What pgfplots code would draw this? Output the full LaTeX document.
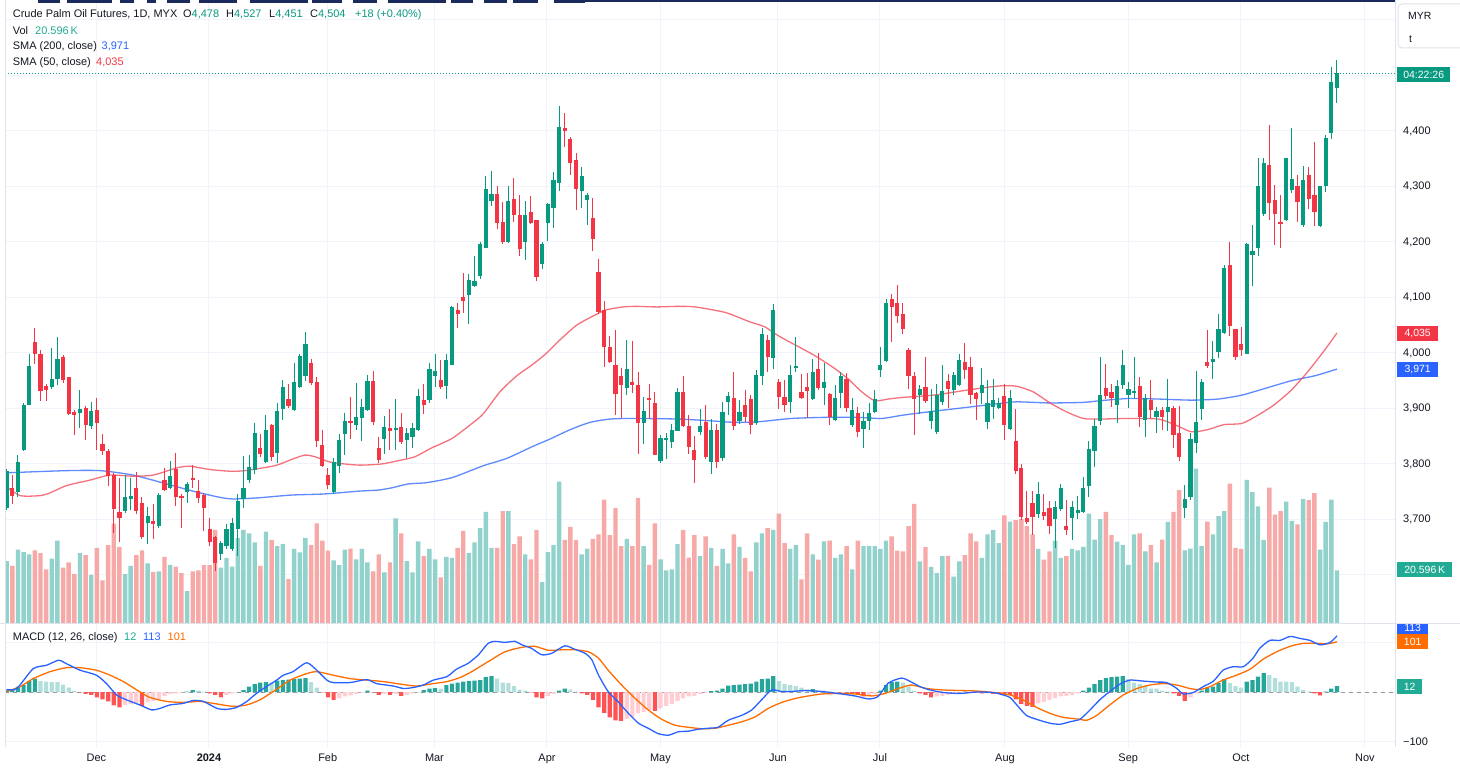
\documentclass[border=0pt]{standalone}
\usepackage{fontspec}
\setmainfont{Liberation Sans}
\usepackage{pgfplots}
\usepackage{pgfplotstable}
\pgfplotsset{compat=1.18}

\definecolor{txt}{HTML}{131722}
\definecolor{tvgreen}{HTML}{089981}
\definecolor{tvred}{HTML}{F23645}
\definecolor{volgreen}{HTML}{92D2CC}
\definecolor{volred}{HTML}{F7A9A7}
\definecolor{gridc}{HTML}{F0F3FA}
\definecolor{sepc}{HTML}{E0E3EB}
\definecolor{smablue}{HTML}{2962FF}
\definecolor{smared}{HTML}{F23645}
\definecolor{macdblue}{HTML}{2962FF}
\definecolor{macdorange}{HTML}{FF6D00}
\definecolor{hG}{HTML}{26A69A}
\definecolor{hg}{HTML}{B2DFDB}
\definecolor{hR}{HTML}{FF5252}
\definecolor{hr}{HTML}{FFCDD2}
\definecolor{labteal}{HTML}{22AB94}
\definecolor{navy}{HTML}{1A2A5C}

\newcommand\tfont{\fontsize{11}{13}\selectfont}
\newcommand\sfont{\fontsize{10.5}{12}\selectfont}

\pgfplotstableread{
i O H L C V
0 3720 3790 3718 3787 24.2
1 3756 3780 3728 3743 22.4
2 3749 3815 3741 3803 28.7
3 3826 3910 3824 3906 27.7
4 3907 3997 3906 3977 26.9
5 4020 4044 3980 3998 28.4
6 3998 4005 3914 3932 27.3
7 3941 3943 3914 3933 21.0
8 3938 4008 3936 3954 25.2
9 3953 4029 3943 3989 32.2
10 3992 3995 3946 3951 21.7
11 3956 3956 3888 3890 23.8
12 3893 3897 3852 3889 19.2
13 3892 3933 3865 3899 27.3
14 3901 3904 3843 3871 26.6
15 3868 3912 3863 3896 18.9
16 3897 3919 3826 3873 29.4
17 3836 3854 3816 3824 16.8
18 3824 3826 3761 3779 30.5
19 3780 3784 3676 3718 38.8
20 3713 3774 3660 3702 29.7
21 3715 3780 3713 3740 19.2
22 3737 3774 3718 3742 22.4
23 3756 3785 3711 3715 26.6
24 3730 3740 3666 3668 28.4
25 3694 3722 3657 3707 23.4
26 3698 3727 3666 3692 20.0
27 3688 3748 3686 3745 20.3
28 3771 3793 3751 3754 25.9
29 3757 3804 3756 3778 22.8
30 3791 3819 3725 3741 22.1
31 3742 3746 3686 3738 19.6
32 3749 3767 3731 3764 12.6
33 3774 3797 3757 3771 20.3
34 3752 3771 3731 3739 20.6
35 3745 3748 3679 3720 22.7
36 3683 3702 3653 3660 22.7
37 3668 3670 3608 3621 36.4
38 3637 3660 3628 3657 21.7
39 3653 3692 3647 3683 25.5
40 3647 3702 3644 3694 22.1
41 3683 3745 3634 3733 33.3
42 3737 3813 3722 3756 36.4
43 3771 3815 3767 3795 35.0
44 3790 3873 3782 3856 31.5
45 3829 3853 3813 3818 22.4
46 3803 3888 3802 3862 35.7
47 3870 3871 3806 3813 32.5
48 3819 3909 3803 3896 30.1
49 3899 3951 3880 3939 30.8
50 3917 3943 3902 3904 17.2
51 3898 3982 3896 3948 29.0
52 3939 3998 3937 3995 27.6
53 3959 4037 3950 4017 33.3
54 3982 3989 3943 3946 30.5
55 3948 3957 3831 3841 38.9
56 3834 3860 3795 3797 32.2
57 3780 3792 3756 3763 28.3
58 3750 3810 3746 3803 24.5
59 3797 3854 3784 3844 22.7
60 3854 3891 3816 3878 28.7
61 3878 3920 3845 3875 29.1
62 3870 3946 3862 3884 24.9
63 3883 3917 3842 3902 29.0
64 3898 3959 3896 3950 23.8
65 3950 3967 3870 3875 20.3
66 3828 3849 3803 3808 26.9
67 3845 3886 3819 3866 19.9
68 3865 3898 3826 3860 23.8
69 3862 3917 3826 3865 40.9
70 3867 3891 3836 3839 35.0
71 3844 3865 3811 3855 24.2
72 3849 3873 3829 3865 19.9
73 3862 3935 3860 3922 31.9
74 3915 3944 3891 3907 26.3
75 3915 3982 3911 3972 29.0
76 3959 3998 3940 3967 24.9
77 3951 3987 3935 3938 17.9
78 3941 3997 3917 3987 25.9
79 3979 4084 3978 4083 25.5
80 4077 4090 4045 4070 29.4
81 4101 4143 4073 4094 36.0
82 4104 4142 4052 4132 27.3
83 4121 4175 4119 4129 31.5
84 4138 4199 4134 4196 37.1
85 4190 4319 4189 4295 43.4
86 4274 4327 4265 4287 29.4
87 4287 4301 4223 4235 29.4
88 4236 4272 4197 4200 43.7
89 4200 4301 4199 4274 43.7
90 4278 4314 4236 4249 30.8
91 4248 4285 4175 4187 33.9
92 4200 4273 4168 4248 26.9
93 4254 4282 4233 4235 24.9
94 4239 4239 4130 4137 36.4
95 4161 4200 4151 4196 16.1
96 4235 4269 4203 4268 27.7
97 4261 4325 4225 4312 30.5
98 4306 4444 4293 4408 55.1
99 4405 4431 4371 4400 32.5
100 4386 4388 4321 4342 37.5
101 4347 4360 4259 4295 32.5
102 4291 4335 4262 4319 26.9
103 4275 4288 4231 4284 29.1
104 4244 4278 4184 4205 32.9
105 4146 4168 4071 4073 34.6
106 4078 4093 3976 4011 48.1
107 4011 4030 3982 3984 34.3
108 3979 4041 3888 3927 44.8
109 3958 3972 3883 3943 30.1
110 3937 4023 3925 3971 32.9
111 3948 4021 3928 3942 30.1
112 3942 3966 3819 3873 48.8
113 3873 3920 3837 3896 30.1
114 3918 3943 3881 3915 22.8
115 3909 3930 3816 3817 38.9
116 3806 3852 3802 3847 24.9
117 3844 3855 3810 3847 20.6
118 3840 3871 3829 3862 21.0
119 3860 3937 3860 3930 30.8
120 3930 3958 3867 3868 36.4
121 3868 3888 3819 3830 25.6
122 3826 3850 3767 3808 34.3
123 3857 3898 3852 3868 26.2
124 3875 3906 3810 3813 33.9
125 3804 3881 3782 3862 29.4
126 3862 3872 3793 3803 22.4
127 3810 3911 3806 3893 29.0
128 3912 3930 3888 3922 23.4
129 3918 3965 3862 3868 34.6
130 3878 3914 3873 3894 29.8
131 3906 3932 3876 3884 25.5
132 3917 3924 3855 3870 20.3
133 3873 3969 3871 3961 31.5
134 3959 4044 3943 4034 35.0
135 4023 4031 3967 3992 37.1
136 3991 4088 3971 4077 36.4
137 3948 3953 3899 3920 42.7
138 3920 3951 3894 3906 31.2
139 3912 3978 3892 3961 29.0
140 3974 4028 3967 3976 30.5
141 3930 3961 3917 3919 17.1
142 3938 3963 3884 3932 35.0
143 3917 3989 3915 3965 26.9
144 3972 4000 3933 3937 24.8
145 3937 3982 3907 3948 31.9
146 3927 3928 3870 3884 32.2
147 3880 3941 3878 3919 25.5
148 3927 3965 3902 3959 26.9
149 3953 3963 3894 3901 30.1
150 3870 3919 3868 3898 21.0
151 3891 3902 3849 3858 32.2
152 3863 3894 3830 3878 30.1
153 3877 3909 3862 3891 30.1
154 3894 3933 3893 3917 30.1
155 3969 4011 3958 3979 29.0
156 3985 4097 3984 4090 32.2
157 4097 4106 4021 4083 33.9
158 4090 4122 4054 4067 28.3
159 4070 4090 4034 4043 28.0
160 4005 4008 3935 3958 37.8
161 3959 3965 3852 3917 46.5
162 3924 3941 3891 3935 24.1
163 3939 3992 3911 3914 29.7
164 3878 3935 3863 3896 22.0
165 3858 3943 3855 3925 19.6
166 3912 3978 3907 3932 26.2
167 3950 3961 3902 3935 26.3
168 3933 3965 3924 3961 18.2
169 3943 3998 3941 3987 24.1
170 3984 4017 3954 3969 26.6
171 3974 3992 3909 3924 35.0
172 3927 3930 3880 3917 31.9
173 3928 3972 3909 3942 25.5
174 3876 3950 3863 3909 34.6
175 3902 3953 3881 3915 36.4
176 3901 3919 3899 3909 31.2
177 3922 3943 3843 3870 42.0
178 3863 3932 3862 3918 39.6
179 3842 3898 3782 3787 40.2
180 3793 3800 3699 3704 40.6
181 3702 3751 3692 3696 37.8
182 3730 3751 3672 3704 34.6
183 3709 3767 3704 3746 29.0
184 3713 3746 3700 3707 24.8
185 3720 3733 3674 3689 28.0
186 3700 3732 3650 3723 32.2
187 3718 3763 3715 3756 25.5
188 3689 3735 3673 3681 26.2
189 3702 3733 3663 3722 29.0
190 3711 3741 3702 3717 28.4
191 3713 3776 3712 3756 29.8
192 3761 3841 3741 3827 42.7
193 3823 3881 3795 3868 32.6
194 3878 3992 3870 3925 40.6
195 3937 3980 3918 3922 43.4
196 3930 3943 3904 3918 34.3
197 3907 3950 3875 3941 31.8
198 3943 4004 3935 3978 30.5
199 3924 3948 3902 3935 22.8
200 3928 3992 3917 3932 34.6
201 3941 3956 3867 3884 35.0
202 3880 3925 3850 3919 28.0
203 3915 3950 3881 3898 30.5
204 3884 3902 3856 3896 23.8
205 3898 3902 3862 3884 32.6
206 3894 3953 3860 3902 39.5
207 3901 3904 3829 3852 43.4
208 3856 3904 3806 3813 51.8
209 3720 3761 3704 3737 28.4
210 3741 3855 3735 3845 29.1
211 3837 3967 3821 3876 60.2
212 3899 3952 3880 3948 30.1
213 3984 4041 3974 3976 39.6
214 3984 4021 3953 3989 34.6
215 4002 4070 3992 4044 41.7
216 4036 4158 4034 4153 43.7
217 4158 4200 4031 4049 54.4
218 4043 4043 3987 3993 29.4
219 4017 4047 3995 4006 29.0
220 3998 4197 3998 4197 55.8
221 4177 4230 4122 4183 51.1
222 4189 4351 4175 4301 45.5
223 4251 4350 4247 4342 32.5
224 4338 4410 4241 4271 52.8
225 4276 4303 4195 4251 42.3
226 4236 4285 4189 4233 43.7
227 4239 4351 4239 4351 47.4
228 4293 4404 4288 4314 39.9
229 4301 4321 4236 4272 38.5
230 4231 4336 4228 4312 48.3
231 4321 4335 4260 4277 47.9
232 4284 4379 4230 4254 50.7
233 4229 4301 4228 4301 28.7
234 4301 4392 4290 4388 39.5
235 4396 4514 4386 4488 48.1
236 4478 4527 4451 4504 20.6
}\candles

\pgfplotstableread{
i h k
0 4 1
1 5 1
2 11 1
3 14 1
4 22 1
5 27 1
6 22 2
7 21 2
8 20 2
9 20 2
10 15 2
11 9 2
12 2 2
13 -1 3
14 -4 3
15 -6 3
16 -11 3
17 -15 3
18 -19 3
19 -27 3
20 -31 3
21 -26 4
22 -24 4
23 -23 4
24 -28 3
25 -21 4
26 -18 4
27 -14 4
28 -8 4
29 -4 4
30 -3 4
31 -1 4
32 1 1
33 4 1
34 3 2
35 1 2
36 -3 3
37 -6 3
38 -11 3
39 -6 4
40 -3 4
41 0 1
42 4 1
43 11 1
44 16 1
45 19 1
46 20 1
47 19 2
48 23 1
49 24 1
50 25 1
51 26 1
52 27 1
53 28 1
54 20 2
55 9 2
56 -1 3
57 -11 3
58 -16 3
59 -13 4
60 -9 4
61 -7 4
62 -4 4
63 -1 4
64 3 1
65 -1 3
66 -6 3
67 -4 4
68 -6 3
69 -4 4
70 -8 3
71 -6 4
72 -3 4
73 0 1
74 4 1
75 7 1
76 8 1
77 7 2
78 14 1
79 17 1
80 19 1
81 21 1
82 22 1
83 23 1
84 24 1
85 30 1
86 32 1
87 27 2
88 19 2
89 18 2
90 12 2
91 5 2
92 3 2
93 -1 3
94 -11 3
95 -13 3
96 -8 4
97 -4 4
98 3 1
99 7 1
100 5 2
101 1 2
102 -3 3
103 -6 3
104 -16 3
105 -31 3
106 -42 3
107 -51 3
108 -57 3
109 -58 3
110 -54 4
111 -50 4
112 -43 4
113 -40 4
114 -36 4
115 -38 3
116 -33 4
117 -28 4
118 -24 4
119 -18 4
120 -13 4
121 -9 4
122 -8 4
123 -4 4
124 -1 4
125 2 1
126 3 1
127 7 1
128 13 1
129 14 1
130 15 1
131 16 1
132 17 1
133 21 1
134 26 1
135 27 1
136 32 1
137 22 2
138 16 2
139 14 2
140 12 2
141 9 2
142 5 2
143 6 1
144 3 2
145 3 2
146 1 2
147 0 2
148 -1 3
149 -1 3
150 -3 3
151 -4 3
152 -9 3
153 -6 4
154 -4 4
155 3 1
156 14 1
157 20 1
158 21 1
159 19 2
160 11 2
161 3 2
162 -3 3
163 -6 3
164 -11 3
165 -9 4
166 -8 4
167 -6 4
168 -4 4
169 -1 4
170 1 1
171 0 2
172 -1 3
173 -3 3
174 -1 4
175 -4 3
176 -4 3
177 -6 3
178 -6 3
179 -15 3
180 -24 3
181 -28 3
182 -30 3
183 -23 4
184 -20 4
185 -16 4
186 -13 4
187 -9 4
188 -8 4
189 -6 4
190 -3 4
191 3 1
192 9 1
193 16 1
194 24 1
195 28 1
196 30 1
197 31 1
198 32 1
199 26 2
200 19 2
201 16 2
202 13 2
203 7 2
204 7 2
205 3 2
206 1 2
207 -3 3
208 -8 3
209 -18 3
210 -11 4
211 -3 4
212 3 1
213 9 1
214 11 1
215 18 1
216 26 1
217 18 2
218 12 2
219 9 2
220 21 1
221 24 1
222 31 1
223 38 1
224 34 2
225 28 2
226 21 2
227 21 2
228 20 2
229 11 2
230 4 2
231 1 2
232 -3 3
233 -7 3
234 1 1
235 7 1
236 12 1
}\hist

\pgfplotsset{
  pane/.style={scale only axis, width=1390bp, xmin=-0.3, xmax=246.3, anchor=south west},
  monthticks/.style={xtick={15.93,35.89,56.95,75.89,95.85,115.98,136.83,154.92,177.10,198.97,218.97,240.97}},
  candle/.style={only marks, mark=none, mark options={opacity=0, draw=none, fill=none}, mark size=0pt},
}

\begin{document}
\begin{tikzpicture}
\useasboundingbox (0bp,0bp) rectangle (1460bp,768bp);
\fill[white] (0bp,0bp) rectangle (1460bp,768bp);

% ---------- price pane: grid and scale ----------
\begin{axis}[pane, at={(5bp,144.5bp)}, height=623.5bp,
  ymin=3512.6, ymax=4636,
  axis line style={draw=none}, major tick length=0pt,
  ytick={3600,3700,3800,3900,4000,4100,4200,4300,4400,4500,4600},
  yticklabels={{},{3,700},{3,800},{3,900},{4,000},{4,100},{4,200},{4,300},{4,400},{},{}},
  ymajorgrids, xmajorgrids, monthticks, xticklabels={},
  grid style={draw=gridc, line width=1bp},
  yticklabel pos=right,
  yticklabel style={anchor=west, inner sep=0pt, xshift=8bp, font=\tfont, text=txt}]
\addplot[tvgreen, line width=0.9bp, dash pattern=on 1bp off 2bp] coordinates {(-0.3,4504) (246.3,4504)};
\end{axis}

% ---------- volume ----------
\begin{axis}[pane, at={(5bp,144.5bp)}, height=623.5bp, ymin=0, ymax=242.3, hide axis]
\addplot[ybar, bar width=4.4bp, bar shift=0pt, fill=volgreen, draw=none,
  restrict expr to domain={\thisrow{C}-\thisrow{O}}{0:10000}] table[x=i, y=V] {\candles};
\addplot[ybar, bar width=4.4bp, bar shift=0pt, fill=volred, draw=none,
  restrict expr to domain={\thisrow{O}-\thisrow{C}}{0.001:10000}] table[x=i, y=V] {\candles};
\end{axis}

% ---------- candles and SMAs ----------
\begin{axis}[pane, at={(5bp,144.5bp)}, height=623.5bp, ymin=3512.6, ymax=4636, hide axis]
\addplot[smablue, opacity=0.75, line width=1.3bp, smooth, tension=0.4] coordinates {
(-0.3,3784) (10.6,3788) (16.6,3788) (22.4,3780) (28.4,3764) (33.1,3751) (37.3,3741) (40,3737)
(44.6,3739) (50.5,3744) (56.4,3746) (62.4,3751) (65.9,3753) (68.3,3757) (71.2,3764) (74.2,3766)
(77.1,3771) (79.5,3777) (84.6,3797) (88.7,3810) (93.4,3832) (96.4,3845) (100,3862) (103.5,3875)
(107.1,3881) (111.2,3882) (119,3881) (124.5,3878) (129.2,3875) (133.3,3876) (139.2,3882)
(145.1,3884) (151.0,3884) (155.2,3882) (159,3888) (164.4,3895) (170.3,3902) (176.2,3909)
(179.2,3912) (185.1,3910) (191.0,3911) (194.0,3914) (199,3918) (204.3,3917) (210.2,3915)
(214.9,3917) (219.1,3924) (223.2,3936) (227.9,3950) (232.1,3959) (236,3971)};
\addplot[smared, opacity=0.7, line width=1.3bp, smooth, tension=0.4] coordinates {
(-0.3,3761) (2.4,3743) (5.9,3743) (7.7,3748) (10.6,3761) (14.8,3771) (18.3,3780) (22.4,3778)
(26,3780) (30.2,3793) (32.5,3796) (36.1,3790) (39.6,3787) (42.3,3788) (47.6,3797) (50.5,3808)
(52.9,3816) (54.7,3813) (57.6,3803) (62.4,3798) (66.5,3800) (69.5,3806) (72.4,3813) (75.4,3829)
(79,3846) (82.8,3875) (84.6,3891) (87.5,3930) (90.5,3959) (93.4,3980) (95.8,4000) (98.2,4024)
(101.1,4050) (104.1,4067) (106.5,4078) (109.4,4083) (111.8,4084) (115.3,4083) (119,4084)
(122.1,4083) (127.5,4073) (131.6,4057) (134.5,4047) (136.9,4031) (139.8,4015) (143.4,3995)
(146.9,3972) (149.3,3953) (151.7,3930) (154.0,3914) (156.4,3917) (159,3920) (164.4,3924)
(170.3,3933) (173.8,3938) (176.7,3941) (179.2,3940) (182.1,3930) (185.1,3910) (188.0,3894)
(191.0,3882) (194.0,3881) (199,3882) (204.3,3881) (207.2,3871) (210.2,3858) (213.1,3862)
(216.0,3871) (219.1,3873) (222.0,3888) (224.9,3907) (227.9,3933) (230.8,3966) (233.8,4005) (236,4036)};
% wicks
\addplot[candle, restrict expr to domain={\thisrow{C}-\thisrow{O}}{0:10000},
  error bars/.cd, y dir=both, y explicit, error mark=none,
  error bar style={line width=1bp, draw=tvgreen}]
  table[x=i, y expr={(\thisrow{H}+\thisrow{L})/2}, y error expr={(\thisrow{H}-\thisrow{L})/2+0.5}] {\candles};
\addplot[candle, restrict expr to domain={\thisrow{O}-\thisrow{C}}{0.001:10000},
  error bars/.cd, y dir=both, y explicit, error mark=none,
  error bar style={line width=1bp, draw=tvred}]
  table[x=i, y expr={(\thisrow{H}+\thisrow{L})/2}, y error expr={(\thisrow{H}-\thisrow{L})/2+0.5}] {\candles};
% bodies
\addplot[candle, restrict expr to domain={\thisrow{C}-\thisrow{O}}{0:10000},
  error bars/.cd, y dir=both, y explicit, error mark=none,
  error bar style={line width=4.2bp, draw=tvgreen}]
  table[x=i, y expr={(\thisrow{O}+\thisrow{C})/2}, y error expr={max(abs(\thisrow{C}-\thisrow{O})/2,1)}] {\candles};
\addplot[candle, restrict expr to domain={\thisrow{O}-\thisrow{C}}{0.001:10000},
  error bars/.cd, y dir=both, y explicit, error mark=none,
  error bar style={line width=4.2bp, draw=tvred}]
  table[x=i, y expr={(\thisrow{O}+\thisrow{C})/2}, y error expr={max(abs(\thisrow{C}-\thisrow{O})/2,1)}] {\candles};
\end{axis}

% ---------- MACD pane ----------
\begin{axis}[pane, at={(5bp,21bp)}, height=123bp, ymin=-110.8, ymax=137,
  axis line style={draw=none}, major tick length=0pt,
  ytick={-100,0,100}, yticklabels={−100,{},{}}, ymajorgrids, xmajorgrids, monthticks,
  xticklabels={Dec,\textbf{2024},Feb,Mar,Apr,May,Jun,Jul,Aug,Sep,Oct,Nov},
  grid style={draw=gridc, line width=1bp},
  yticklabel pos=right,
  yticklabel style={anchor=west, inner sep=0pt, xshift=8bp, font=\tfont, text=txt},
  xticklabel style={anchor=base, inner sep=0pt, yshift=-14bp, font=\tfont, text=txt}]
\addplot[color=black!40, line width=0.8bp, dash pattern=on 4bp off 4bp] coordinates {(-0.3,0) (246.3,0)};
\addplot[ybar, bar width=4.2bp, bar shift=0pt, fill=hG, draw=none,
  restrict expr to domain={\thisrow{k}}{0.5:1.5}] table[x=i, y=h] {\hist};
\addplot[ybar, bar width=4.2bp, bar shift=0pt, fill=hg, draw=none,
  restrict expr to domain={\thisrow{k}}{1.5:2.5}] table[x=i, y=h] {\hist};
\addplot[ybar, bar width=4.2bp, bar shift=0pt, fill=hR, draw=none,
  restrict expr to domain={\thisrow{k}}{2.5:3.5}] table[x=i, y=h] {\hist};
\addplot[ybar, bar width=4.2bp, bar shift=0pt, fill=hr, draw=none,
  restrict expr to domain={\thisrow{k}}{3.5:4.5}] table[x=i, y=h] {\hist};
\addplot[macdorange, line width=1.3bp, smooth, tension=0.4] coordinates {
(0,1) (2.4,11) (4.7,27) (7.7,41) (10.6,49) (13.0,49) (15.9,44) (18.3,34) (20.7,21) (23.1,4)
(25.4,-11) (28.4,-19) (31.3,-21) (34.3,-19) (36.7,-23) (40.2,-29) (42.6,-26) (44.9,-16) (47.3,1)
(50.3,24) (53.2,37) (55.0,41) (57.9,34) (60.9,27) (63.9,24) (66.8,21) (69.8,16) (72.7,12)
(75.7,17) (78.1,21) (80.4,29) (82.5,41) (85.4,61) (88.4,81) (91.4,90) (93.7,92) (96.1,84)
(98.5,85) (100.8,85) (103.2,81) (105.0,68) (106.7,44) (109.1,14) (111.5,-13) (113.8,-36)
(116.2,-55) (118.6,-67) (120.9,-71) (123.3,-74) (125.7,-73) (128.0,-67) (130.4,-60) (132.8,-50)
(135.1,-33) (137.5,-21) (139.9,-13) (142.2,-8) (144.6,-4) (147.5,-3) (150.5,-4) (153.5,-8)
(155.8,-3) (158.2,7) (160.5,14) (163.2,7) (166.2,4) (169.1,3) (172.1,2) (175.0,-1) (178.0,-6)
(180.3,-16) (182.7,-31) (185.1,-43) (187.4,-51) (190.4,-55) (191.6,-57) (193.4,-47) (195.7,-26)
(198.1,-6) (200.5,7) (202.8,14) (205.2,17) (207.6,14) (209.9,7) (211.7,5) (213.5,11) (215.8,24)
(218.2,34) (220.6,46) (222.9,66) (225.3,81) (227.7,92) (230.0,98) (232.4,98) (234.2,97) (236,101)};
\addplot[macdblue, line width=1.3bp, smooth, tension=0.4] coordinates {
(0,5) (1.8,7) (4.7,47) (7.1,54) (9.2,64) (10.6,57) (13.0,44) (15.9,34) (17.7,17) (19.5,-6)
(21.3,-16) (23.6,-26) (25.7,-36) (27.2,-33) (29.0,-26) (31.3,-23) (33.1,-17) (34.9,-19)
(37.3,-33) (39.0,-35) (40.8,-31) (42.6,-19) (44.3,-3) (46.1,11) (47.9,24) (49.1,34) (50.8,41)
(53.2,59) (55.0,44) (56.8,24) (57.9,19) (60.9,19) (63.9,25) (65.6,17) (68.6,12) (70.4,7)
(72.1,9) (73.9,14) (75.7,24) (78.1,31) (79.8,46) (81.9,58) (83.7,75) (85.4,98) (86.6,102)
(88.4,100) (90.2,102) (91.4,95) (93.1,88) (94.9,75) (96.7,78) (99.0,93) (100.8,86) (102.6,78)
(103.8,65) (105.0,34) (106.7,1) (108.5,-20) (110.3,-43) (112.1,-63) (113.8,-73) (115.6,-84)
(117.4,-87) (119.2,-80) (120.9,-79) (122.7,-75) (124.5,-73) (126.2,-71) (128.0,-57) (130.4,-47)
(132.2,-36) (133.9,-16) (135.7,4) (137.5,1) (139.3,1) (141.6,3) (144.6,1) (147.5,-3) (150.5,-8)
(152.9,-14) (154.6,-9) (156.4,18) (158.8,28) (160.5,20) (162.0,11) (163.8,4) (166.2,-1)
(169.1,-3) (172.1,0) (175.0,-1) (176.8,-6) (178.0,-11) (179.2,-26) (180.9,-47) (182.7,-55)
(185.1,-63) (186.9,-65) (188.6,-60) (190.4,-55) (192.2,-36) (193.9,-16) (195.7,1) (197.5,16)
(199.3,24) (201.6,22) (204.0,20) (205.8,19) (207.6,7) (208.7,-4) (210.5,-1) (212.3,11)
(214.1,22) (215.8,44) (217.6,51) (219.4,51) (221.1,68) (222.3,88) (224.1,104) (225.9,104)
(227.7,112) (229.4,108) (231.2,104) (233.0,95) (234.8,100) (236,113)};
\end{axis}

% ---------- separators ----------
\draw[sepc, line width=1bp] (0bp,144bp) -- (1460bp,144bp);
\draw[sepc, line width=1bp] (5bp,21bp) -- (5bp,768bp);
\draw[sepc, line width=1bp] (1395.5bp,21bp) -- (1395.5bp,768bp);

% ---------- top navy strip (cropped banner) ----------
\fill[navy] (38bp,765bp) rectangle (60bp,768bp);
\fill[navy] (67bp,765bp) rectangle (112bp,768bp);
\fill[navy] (120bp,765bp) rectangle (134bp,768bp);
\fill[navy] (147bp,765bp) rectangle (156bp,768bp);
\fill[navy] (167bp,765bp) rectangle (190bp,768bp);
\fill[navy] (199bp,765bp) rectangle (237bp,768bp);
\fill[navy] (250bp,765bp) rectangle (308bp,768bp);
\fill[navy] (312bp,765bp) rectangle (342bp,768bp);
\fill[navy] (353bp,765bp) rectangle (377bp,768bp);
\fill[navy] (388bp,765bp) rectangle (446bp,768bp);
\fill[navy] (451bp,765bp) rectangle (473bp,768bp);
\fill[navy] (484bp,765bp) rectangle (507bp,768bp);
\fill[navy] (513bp,765bp) rectangle (538bp,768bp);
\fill[navy] (554bp,765bp) rectangle (585bp,768bp);
\fill[navy] (585bp,766bp) rectangle (1395bp,768bp);

% ---------- legend texts ----------
\node[anchor=base west, inner sep=0pt, font=\tfont, text=txt] at (12.7bp,750bp) {Crude Palm Oil Futures, 1D, MYX};
\node[anchor=base west, inner sep=0pt, font=\tfont] at (183bp,750bp) {\textcolor{txt}{O}\textcolor{tvgreen}{4,478}};
\node[anchor=base west, inner sep=0pt, font=\tfont] at (226bp,750bp) {\textcolor{txt}{H}\textcolor{tvgreen}{4,527}};
\node[anchor=base west, inner sep=0pt, font=\tfont] at (269bp,750bp) {\textcolor{txt}{L}\textcolor{tvgreen}{4,451}};
\node[anchor=base west, inner sep=0pt, font=\tfont] at (310bp,750bp) {\textcolor{txt}{C}\textcolor{tvgreen}{4,504}};
\node[anchor=base west, inner sep=0pt, font=\tfont, text=tvgreen] at (355bp,750bp) {+18 (+0.40\%)};
\node[anchor=base west, inner sep=0pt, font=\tfont, text=txt] at (12.7bp,733.5bp) {Vol};
\node[anchor=base west, inner sep=0pt, font=\tfont, text=labteal] at (35bp,733.5bp) {20.596\,K};
\node[anchor=base west, inner sep=0pt, font=\tfont, text=txt] at (12.7bp,718.5bp) {SMA (200, close)};
\node[anchor=base west, inner sep=0pt, font=\tfont, text=smablue] at (101.5bp,718.5bp) {3,971};
\node[anchor=base west, inner sep=0pt, font=\tfont, text=txt] at (12.7bp,702.5bp) {SMA (50, close)};
\node[anchor=base west, inner sep=0pt, font=\tfont, text=smared] at (96bp,702.5bp) {4,035};
\node[anchor=base west, inner sep=0pt, font=\tfont, text=txt] at (12.7bp,127bp) {MACD (12, 26, close)};
\node[anchor=base west, inner sep=0pt, font=\tfont, text=labteal] at (124bp,127bp) {12};
\node[anchor=base west, inner sep=0pt, font=\tfont, text=macdblue] at (143bp,127bp) {113};
\node[anchor=base west, inner sep=0pt, font=\tfont, text=macdorange] at (167.5bp,127bp) {101};

% ---------- right scale labels ----------
\draw[sepc, line width=1bp, rounded corners=4bp, fill=white] (1398bp,720bp) rectangle (1468bp,764bp);
\node[anchor=west, inner sep=0pt, font=\sfont, text=txt] at (1408bp,752bp) {MYR};
\node[anchor=west, inner sep=0pt, font=\sfont, text=txt] at (1409bp,729bp) {t};
\node[anchor=west, fill=tvgreen, text=white, font=\sfont, inner sep=0pt, minimum height=15bp, minimum width=53bp] at (1397bp,693bp) {04:22:26};
\node[anchor=west, fill=tvred, text=white, font=\sfont, inner sep=0pt, minimum height=15bp, minimum width=41bp] at (1397bp,434.5bp) {4,035};
\node[anchor=west, fill=smablue, text=white, font=\sfont, inner sep=0pt, minimum height=15bp, minimum width=41bp] at (1397bp,398bp) {3,971};
\node[anchor=west, fill=labteal, text=white, font=\sfont, inner sep=0pt, minimum height=15bp, minimum width=55bp] at (1397bp,198bp) {20.596\,K};
\begin{scope}
\clip (1390bp,0bp) rectangle (1460bp,143.5bp);
\node[anchor=west, fill=macdblue, text=white, font=\sfont, inner sep=0pt, minimum height=15bp, minimum width=31bp] at (1397bp,140bp) {113};
\end{scope}
\node[anchor=west, fill=macdorange, text=white, font=\sfont, inner sep=0pt, minimum height=15bp, minimum width=31bp] at (1397bp,126.5bp) {101};
\node[anchor=west, fill=labteal, text=white, font=\sfont, inner sep=0pt, minimum height=15bp, minimum width=25bp] at (1397bp,81bp) {12};
\end{tikzpicture}
\end{document}
